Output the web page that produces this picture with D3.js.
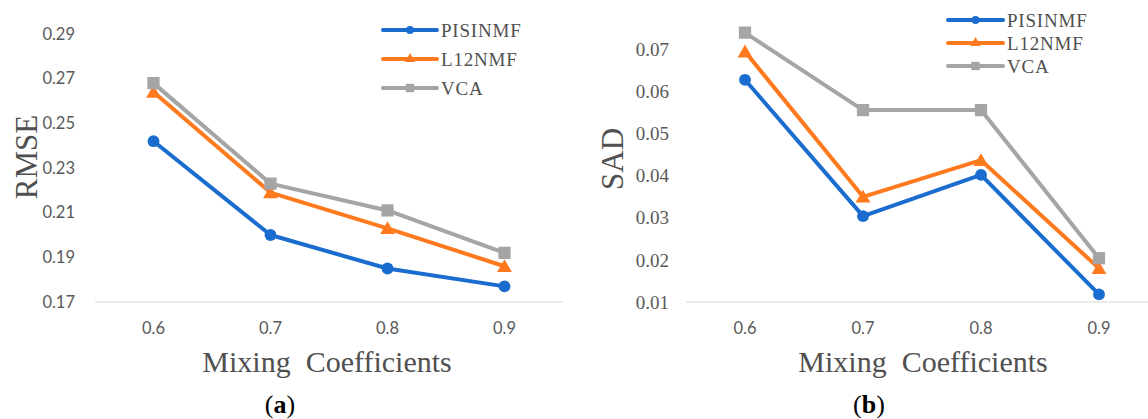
<!DOCTYPE html>
<html>
<head>
<meta charset="utf-8">
<script src="https://cdn.jsdelivr.net/npm/d3@7/dist/d3.min.js"></script>
<style>
  html, body { margin: 0; padding: 0; background: #fff; }
  svg { display: block; }
</style>
</head>
<body>
<svg id="chart" width="1148" height="419"></svg>
<script>
// Mixing coefficients on the x axis (shared by both panels)
const categories = ["0.6", "0.7", "0.8", "0.9"];
const seriesNames = ["PISINMF", "L12NMF", "VCA"];

// Panel (a): RMSE
const rmsePISINMF = [0.242, 0.200, 0.185, 0.177];
const rmseL12NMF  = [0.264, 0.219, 0.203, 0.186];
const rmseVCA     = [0.268, 0.223, 0.211, 0.192];
const rmseTicks   = [0.17, 0.19, 0.21, 0.23, 0.25, 0.27, 0.29];

// Panel (b): SAD
const sadPISINMF = [0.0628, 0.0304, 0.0402, 0.0118];
const sadL12NMF  = [0.0695, 0.0350, 0.0437, 0.0180];
const sadVCA     = [0.0740, 0.0556, 0.0556, 0.0204];
const sadTicks   = [0.01, 0.02, 0.03, 0.04, 0.05, 0.06, 0.07];

const colors = ["#1a6dce", "#ff7a1f", "#a5a5a5"];
const symbols = [d3.symbolCircle, d3.symbolTriangle, d3.symbolSquare];
const symbolSizes = [110, 95, 150];
const legendSymbolSizes = [50, 45, 70];

const svg = d3.select("#chart");

function drawPanel(p) {
  const g = svg.append("g");
  const x = d3.scaleBand().domain(categories).range(p.xRange);
  const y = d3.scaleLinear().domain([p.ticks[0], p.ticks[p.ticks.length - 1]])
    .range([p.yBottom, p.yTop]);

  // baseline
  g.append("line")
    .attr("x1", p.xRange[0]).attr("x2", p.xRange[1])
    .attr("y1", y(p.ticks[0])).attr("y2", y(p.ticks[0]))
    .attr("stroke", "#d9d9d9").attr("stroke-width", 1.2);

  // y tick labels
  const yAxis = d3.axisLeft(y).tickValues(p.ticks).tickSize(0)
    .tickFormat(d3.format(p.tickFmt));
  const ya = g.append("g").attr("transform", `translate(${p.yLabelX},0)`).call(yAxis);
  ya.select(".domain").remove();
  ya.selectAll("text")
    .attr("x", 0)
    .attr("fill", "#595959")
    .style("font-family", p.yTickFont)
    .style("font-size", p.yTickSize + "px");

  // x tick labels
  const xAxis = d3.axisBottom(x).tickSize(0);
  const xa = g.append("g").attr("transform", `translate(0,${p.xLabelY})`).call(xAxis);
  xa.select(".domain").remove();
  xa.selectAll("text")
    .attr("y", 0)
    .attr("dy", "0.35em")
    .attr("fill", "#595959")
    .style("font-family", "Lato, 'Liberation Sans', sans-serif")
    .style("font-size", "16.5px");

  // series lines and markers
  const line = d3.line().x((d, i) => x(categories[i]) + x.bandwidth() / 2).y(d => y(d));
  p.series.forEach((vals, si) => {
    g.append("path")
      .datum(vals)
      .attr("d", line)
      .attr("fill", "none")
      .attr("stroke", colors[si])
      .attr("stroke-width", 4)
      .attr("stroke-linejoin", "round");
  });
  p.series.forEach((vals, si) => {
    g.selectAll(null).data(vals).enter().append("path")
      .attr("d", d3.symbol().type(symbols[si]).size(symbolSizes[si]))
      .attr("transform", (d, i) => `translate(${x(categories[i]) + x.bandwidth() / 2},${y(d) + (si === 1 ? 1.5 : 0)})`)
      .attr("fill", colors[si]);
  });

  // legend
  seriesNames.forEach((name, si) => {
    const ly = p.legend.y[si];
    g.append("line")
      .attr("x1", p.legend.x0).attr("x2", p.legend.x1)
      .attr("y1", ly).attr("y2", ly)
      .attr("stroke", colors[si]).attr("stroke-width", 4)
      .attr("stroke-linecap", "round");
    g.append("path")
      .attr("d", d3.symbol().type(symbols[si]).size(legendSymbolSizes[si]))
      .attr("transform", `translate(${(p.legend.x0 + p.legend.x1) / 2},${ly})`)
      .attr("fill", colors[si]);
    g.append("text")
      .attr("x", p.legend.x1 + 4).attr("y", ly)
      .attr("dy", "0.35em")
      .attr("fill", "#505050")
      .style("font-family", "'Liberation Serif', 'Times New Roman', serif")
      .style("font-size", "19px")
      .style("letter-spacing", "0.8px")
      .text(name);
  });

  // y axis title
  g.append("text")
    .attr("transform", `translate(${p.yTitle[0]},${p.yTitle[1]}) rotate(-90)`)
    .attr("text-anchor", "middle")
    .attr("dy", "0.35em")
    .attr("fill", "#505050")
    .style("font-family", "'Liberation Serif', 'Times New Roman', serif")
    .style("font-size", "31px")
    .text(p.yTitleText);

  // x axis title
  g.append("text")
    .attr("x", p.xTitleX).attr("y", 372)
    .attr("text-anchor", "middle")
    .attr("fill", "#505050")
    .style("font-family", "'Liberation Serif', 'Times New Roman', serif")
    .style("font-size", "30px")
    .style("white-space", "pre")
    .text("Mixing  Coefficients");

  // panel caption
  const cap = g.append("text")
    .attr("x", p.captionX).attr("y", 413)
    .attr("text-anchor", "middle")
    .attr("fill", "#000")
    .style("font-family", "'Liberation Serif', 'Times New Roman', serif")
    .style("font-size", "26px");
  cap.append("tspan").text("(");
  cap.append("tspan").style("font-weight", "bold").text(p.caption);
  cap.append("tspan").text(")");
}

drawPanel({
  xRange: [95, 563],
  yBottom: 302, yTop: 34,
  ticks: rmseTicks, tickFmt: ".2f",
  yLabelX: 75, yTickFont: "Lato, 'Liberation Sans', sans-serif", yTickSize: 16.5,
  xLabelY: 328,
  series: [rmsePISINMF, rmseL12NMF, rmseVCA],
  legend: { x0: 383, x1: 437, y: [30, 59, 88] },
  yTitle: [26, 157], yTitleText: "RMSE",
  xTitleX: 327, captionX: 280, caption: "a"
});

drawPanel({
  xRange: [686, 1158],
  yBottom: 302, yTop: 49.5,
  ticks: sadTicks, tickFmt: ".2f",
  yLabelX: 669, yTickFont: "'Liberation Serif', 'Times New Roman', serif", yTickSize: 19,
  xLabelY: 328,
  series: [sadPISINMF, sadL12NMF, sadVCA],
  legend: { x0: 948, x1: 1003, y: [20, 43, 66] },
  yTitle: [612, 159], yTitleText: "SAD",
  xTitleX: 923, captionX: 869, caption: "b"
});
</script>
</body>
</html>
